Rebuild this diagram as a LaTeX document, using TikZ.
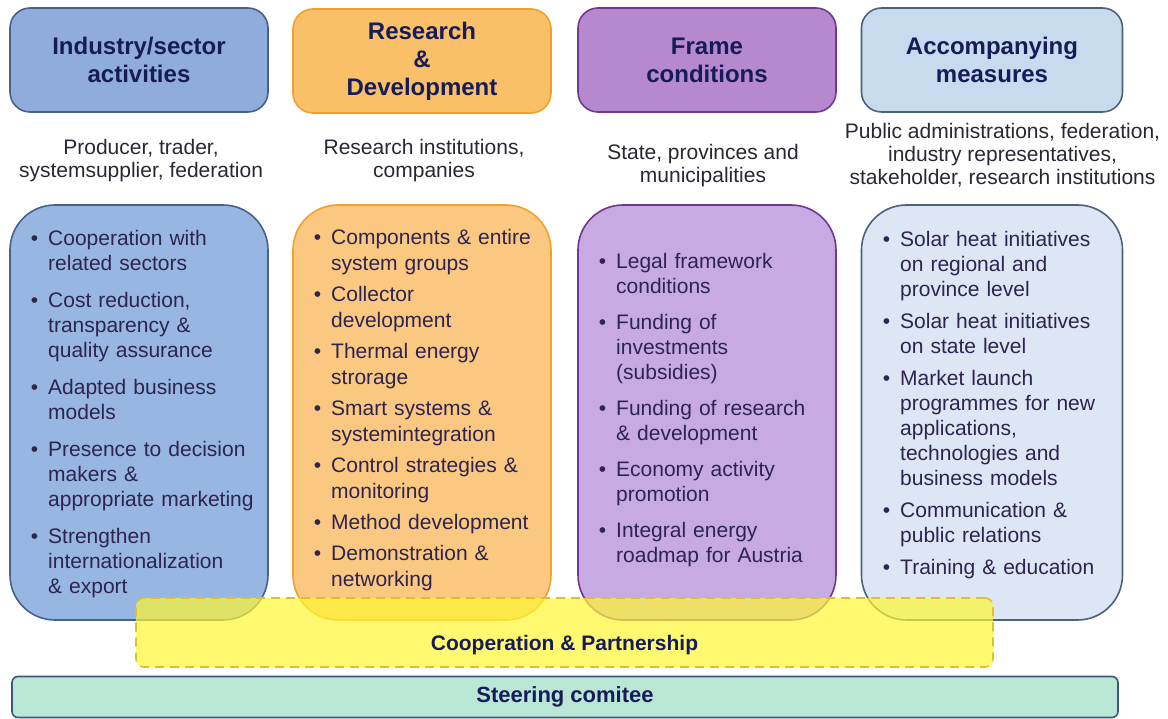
\documentclass[tikz,border=0pt]{standalone}
\usepackage{fontspec}
\setmainfont{Liberation Sans}
\usetikzlibrary{positioning}

\definecolor{indfill}{RGB}{143,172,220}
\definecolor{indline}{RGB}{70,98,140}
\definecolor{indbody}{RGB}{152,182,226}
\definecolor{resfill}{RGB}{250,192,105}
\definecolor{resline}{RGB}{244,160,40}
\definecolor{resbody}{RGB}{250,200,128}
\definecolor{frafill}{RGB}{182,136,206}
\definecolor{fraline}{RGB}{115,55,145}
\definecolor{frabody}{RGB}{200,170,226}
\definecolor{accfill}{RGB}{200,218,238}
\definecolor{accline}{RGB}{75,98,122}
\definecolor{accbody}{RGB}{220,230,244}
\definecolor{coopfill}{RGB}{255,246,50}
\definecolor{coopline}{RGB}{228,190,40}
\definecolor{steerfill}{RGB}{186,230,214}
\definecolor{steerline}{RGB}{60,88,118}
\definecolor{titlecol}{RGB}{22,28,88}
\definecolor{subcol}{RGB}{40,40,52}
\definecolor{bodycol}{RGB}{45,36,80}

\newenvironment{itemlist}[1]{\begin{list}{\textbullet}{%
  \setlength\leftmargin{17pt}\setlength\labelwidth{8pt}%
  \setlength\labelsep{10pt}\setlength\itemsep{#1}%
  \setlength\parsep{0pt}\setlength\topsep{0pt}\setlength\partopsep{0pt}}}%
  {\end{list}}

\begin{document}
\begin{tikzpicture}[x=1pt, y=-1pt]
	\tikzstyle{headbox}=[rounded corners=20pt, line width=1.6pt, minimum height=104pt, minimum width=258pt, inner sep=0pt, align=center, text=titlecol, font=\fontsize{24}{28}\selectfont\bfseries]
	\tikzstyle{bodybox}=[rounded corners=45pt, line width=1.6pt, minimum height=415pt, minimum width=258pt, inner sep=0pt]
	\tikzstyle{whotext}=[align=center, inner sep=0pt, text=subcol, font=\fontsize{21}{23}\selectfont]
	\tikzstyle{itemtext}=[anchor=north west, text width=250pt, inner sep=0pt, text=bodycol, font=\fontsize{21}{25}\selectfont]
	\useasboundingbox (0,0) rectangle (1168,719);

	\node[headbox, draw=indline, fill=indfill] (indhead) at (139,60) {Industry/sector\\activities};
	\node[headbox, draw=resline, fill=resfill] (reshead) at (422,61) {Research\\\&\\Development};
	\node[headbox, draw=fraline, fill=frafill] (frahead) at (707,60) {Frame\\conditions};
	\node[headbox, draw=accline, fill=accfill, minimum width=261pt] (acchead) at (992,60) {Accompanying\\measures};

	\node[whotext] (indwho) at (141,161) {Producer, trader,\\systemsupplier, federation};
	\node[whotext] (reswho) at (424,161) {Research institutions,\\companies};
	\node[whotext] (frawho) at (703,166) {State, provinces and\\municipalities};
	\node[whotext] (accwho) at (1002.5,155) {Public administrations, federation,\\industry representatives,\\stakeholder, research institutions};

	\node[bodybox, draw=indline, fill=indbody] (indbox) at (139,412.5) {};
	\node[bodybox, draw=resline, fill=resbody] (resbox) at (422,412.5) {};
	\node[bodybox, draw=fraline, fill=frabody] (frabox) at (707,412.5) {};
	\node[bodybox, draw=accline, fill=accbody, minimum width=261pt] (accbox) at (992,412.5) {};

	\node[itemtext] (inditems) at (31,220) {\begin{itemlist}{12pt}
		\item Cooperation with\\related sectors
		\item Cost reduction,\\transparency \&\\quality assurance
		\item Adapted business\\models
		\item Presence to decision\\makers \&\\appropriate marketing
		\item Strengthen\\internationalization\\\& export
	\end{itemlist}};
	\node[itemtext] (resitems) at (314,218) {\begin{itemlist}{5pt}\baselineskip=26pt
		\item Components \& entire\\system groups
		\item Collector\\development
		\item Thermal energy\\strorage
		\item Smart systems \&\\systemintegration
		\item Control strategies \&\\monitoring
		\item Method development
		\item Demonstration \&\\networking
	\end{itemlist}};
	\node[itemtext] (fraitems) at (599,243) {\begin{itemlist}{11pt}
		\item Legal framework\\conditions
		\item Funding of\\investments\\(subsidies)
		\item Funding of research\\\& development
		\item Economy activity\\promotion
		\item Integral energy\\roadmap for Austria
	\end{itemlist}};
	\node[itemtext] (accitems) at (883,221) {\begin{itemlist}{7pt}
		\item Solar heat initiatives\\on regional and\\province level
		\item Solar heat initiatives\\on state level
		\item Market launch\\programmes for new\\applications,\\technologies and\\business models
		\item Communication \&\\public relations
		\item Training \& education
	\end{itemlist}};

	\node[rounded corners=8pt, dashed, dash pattern=on 9pt off 6pt, line width=1.6pt, draw=coopline, fill=coopfill, fill opacity=0.7, minimum width=857pt, minimum height=69pt, inner sep=0pt] (coopbox) at (564.5,632.5) {};
	\node[text=titlecol, font=\fontsize{21}{25}\selectfont\bfseries, inner sep=0pt] (cooptext) at (564.5,645) {Cooperation \& Partnership};

	\node[rounded corners=6pt, line width=1.6pt, draw=steerline, fill=steerfill, minimum width=1106pt, minimum height=41pt, inner sep=0pt] (steerbox) at (565,697) {};
	\node[text=titlecol, font=\fontsize{22}{25}\selectfont\bfseries, inner sep=0pt] (steertext) at (565,697) {Steering comitee};
\end{tikzpicture}
\end{document}
